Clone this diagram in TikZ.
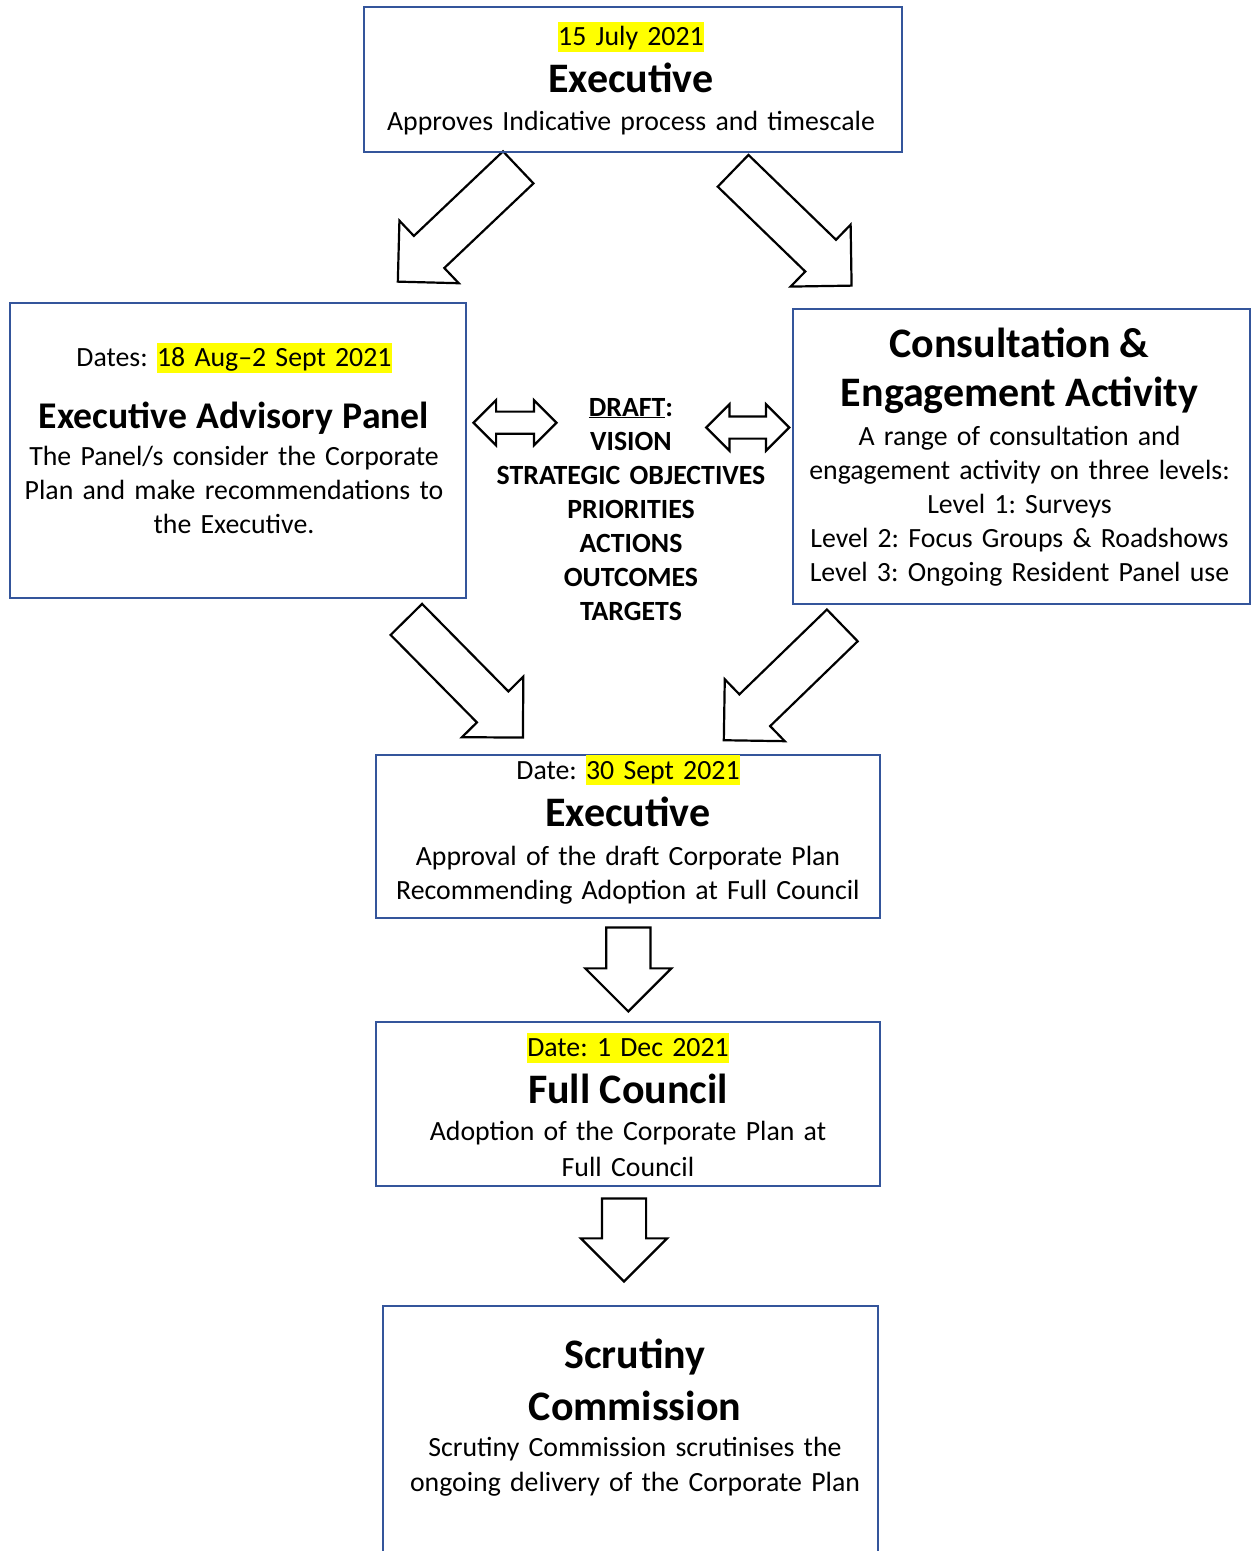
\documentclass[tikz,border=0pt]{standalone}
\usepackage{fontspec}
\setmainfont{Carlito}
\usepackage{xcolor}
\usetikzlibrary{shapes.arrows}
\definecolor{panelblue}{RGB}{52,85,155}
\definecolor{markyellow}{RGB}{255,255,0}
\frenchspacing
\newcommand{\bodyfont}{\fontsize{27.8}{34}\selectfont}
\newcommand{\titlefont}{\fontsize{42}{50}\selectfont\bfseries}
\newcommand{\paneltitlefont}{\fontsize{37.7}{46}\selectfont\bfseries}
\newcommand{\hl}[1]{{\setlength{\fboxsep}{0pt}\colorbox{markyellow}{\rule[-6pt]{0pt}{30pt}#1}}}
\tikzset{
  panel/.style={draw=panelblue, line width=2.8pt, rectangle, inner sep=0pt},
  txt/.style={align=center, inner sep=0pt, anchor=base, font=\bodyfont,
              execute at begin node={\lineskiplimit=-\maxdimen}},
  blockarrow/.style={single arrow, draw=black, line width=2.2pt, inner xsep=0pt,
                     inner ysep=21pt, single arrow head extend=21pt, minimum height=#1},
  twinarrow/.style={double arrow, draw=black, line width=2.2pt, inner xsep=0pt,
                    inner ysep=10pt, double arrow head extend=#1, minimum height=83pt}
}

\begin{document}
\begin{tikzpicture}[x=1pt,y=-1pt]
  \useasboundingbox (0,0) rectangle (1252,1551);
  % block arrows between the boxes
  \node[blockarrow=166pt, rotate=223.5, anchor=tip] (arrowtl) at (396.7,282.7) {};
  \node[blockarrow=165pt, rotate=-44.1, anchor=tip] (arrowtr) at (852.7,286.7) {};
  \node[blockarrow=166pt, rotate=-45.4, anchor=tip] (arrowml) at (524,738.7) {};
  \node[blockarrow=165pt, rotate=224.1, anchor=tip] (arrowmr) at (722.7,741.3) {};
  \node[blockarrow=84pt, rotate=-90, anchor=tip] (arrowdown1) at (628.3,1013) {};
  \node[blockarrow=83pt, rotate=-90, anchor=tip] (arrowdown2) at (624,1283) {};
  \node[twinarrow=11.5pt] (twinleft) at (515,422.7) {};
  \node[twinarrow=12.2pt] (twinright) at (747.7,427.5) {};

  % boxes
  \node[panel, minimum width=538pt, minimum height=145pt] (exectop) at (633,79.5) {};
  \node[txt, text width=530pt] (exectoptext) at (631,45.5)
    {\hl{15 July 2021}\\[13pt]{\titlefont Executive}\\[4pt]Approves Indicative process and timescale};

  \node[panel, minimum width=456pt, minimum height=295pt] (advisory) at (238,450.5) {};
  \node[txt, text width=448pt] (advisorytext) at (234,366.7)
    {Dates: \hl{18 Aug--2 Sept 2021}\\[27.6pt]{\paneltitlefont Executive Advisory Panel}\\[2.7pt]%
     The Panel/s consider the Corporate\\Plan and make recommendations to\\the Executive.};

  \node[panel, minimum width=457pt, minimum height=295pt] (consult) at (1021.5,456.5) {};
  \node[txt, text width=450pt] (consulttext) at (1019.5,357.7)
    {{\titlefont Consultation \&}\\[15pt]{\titlefont Engagement Activity}\\[4.3pt]%
     A range of consultation and\\engagement activity on three levels:\\Level 1: Surveys\\%
     Level 2: Focus Groups \& Roadshows\\Level 3: Ongoing Resident Panel use};

  \node[txt, text width=300pt, font=\bodyfont\bfseries] (draft) at (631,416)
    {\underline{DRAFT}:\\VISION\\STRATEGIC OBJECTIVES\\PRIORITIES\\ACTIONS\\OUTCOMES\\TARGETS};

  \node[panel, minimum width=504pt, minimum height=163pt] (execmid) at (628,836.5) {};
  \node[txt, text width=496pt] (execmidtext) at (628,779.3)
    {Date: \hl{30 Sept 2021}\\[12.7pt]{\titlefont Executive}\\[5pt]%
     Approval of the draft Corporate Plan\\Recommending Adoption at Full Council};

  \node[panel, minimum width=504pt, minimum height=164pt] (council) at (628,1104) {};
  \node[txt, text width=496pt] (counciltext) at (628,1056.7)
    {\hl{Date: 1 Dec 2021}\\[12.6pt]{\titlefont Full Council}\\[3.4pt]%
     Adoption of the Corporate Plan at\\[1.3pt]Full Council};

  \node[panel, minimum width=495pt, minimum height=274pt] (scrutiny) at (630.5,1443) {};
  \node[txt, text width=488pt] (scrutinytext) at (635,1368.3)
    {{\titlefont Scrutiny}\\[17.7pt]{\titlefont Commission}\\[2.7pt]%
     Scrutiny Commission scrutinises the\\[1pt]ongoing delivery of the Corporate Plan};
\end{tikzpicture}
\end{document}
